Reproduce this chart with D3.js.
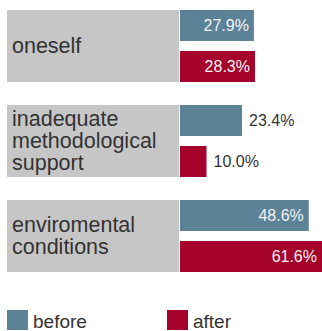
<!DOCTYPE html>
<html>
<head>
<meta charset="utf-8">
<script src="https://cdn.jsdelivr.net/npm/d3@7"></script>
<style>
  html, body { margin: 0; padding: 0; background: #fff; }
  svg { display: block; font-family: "Liberation Sans", Arial, Helvetica, sans-serif; }
</style>
</head>
<body>
<svg id="chart" width="322" height="331"></svg>
<script>
// Categories (label lines) and the two survey series, in percent
const categories = ["oneself", "inadequate methodological support", "enviromental conditions"];
const categoryLines = [["oneself"], ["inadequate", "methodological", "support"], ["enviromental", "conditions"]];
const series = ["before", "after"];
const beforeValues = [27.9, 23.4, 48.6];
const afterValues = [28.3, 10.0, 61.6];
const seriesLabels = ["before", "after"];

const colors = { before: "#5b8297", after: "#a5032b" };
const W = 322, H = 331;

const svg = d3.select("#chart");

// Vertical layout: one band per category, two bars inside each band
const y = d3.scaleBand().domain(categories).range([10, 272]).paddingInner(23 / 95).paddingOuter(0);
const ySub = d3.scaleBand().domain(series).range([0, y.bandwidth()]).paddingInner(10 / 41).paddingOuter(0);

// Horizontal value scale, bars grow from the right edge of the label box
const x = d3.scaleLinear().domain([0, 100]).range([180, 445]);

const rows = categories.map((c, i) => ({
  cat: c,
  lines: categoryLines[i],
  values: [
    { key: "before", value: beforeValues[i] },
    { key: "after", value: afterValues[i] }
  ]
}));

const g = svg.selectAll("g.cat").data(rows).join("g")
  .attr("class", "cat")
  .attr("transform", d => `translate(0,${y(d.cat)})`);

// Grey label box
g.append("rect")
  .attr("x", 7)
  .attr("y", 0)
  .attr("width", 172)
  .attr("height", y.bandwidth())
  .attr("fill", "#c6c6c6");

// Category label, possibly on several lines (tight leading)
const fs = 21.5, lh = 22;
g.append("text")
  .attr("fill", "#333")
  .attr("font-size", fs)
  .attr("textLength", null)
  .each(function(d) {
    const n = d.lines.length;
    const first = y.bandwidth() / 2 - (n - 1) / 2 * lh + 0.34 * fs;
    d3.select(this).selectAll("tspan").data(d.lines).join("tspan")
      .attr("x", 12)
      .attr("y", (l, k) => first + k * lh)
      .text(l => l);
  });

// Bars
g.selectAll("rect.bar").data(d => d.values).join("rect")
  .attr("class", "bar")
  .attr("x", x(0))
  .attr("y", d => ySub(d.key))
  .attr("width", d => x(d.value) - x(0))
  .attr("height", ySub.bandwidth())
  .attr("fill", d => colors[d.key]);

// Value labels: inside the bar when it is wide enough, otherwise just after it
const fmt = v => v.toFixed(1) + "%";
g.selectAll("text.val").data(d => d.values).join("text")
  .attr("class", "val")
  .attr("font-size", 16)
  .attr("y", d => ySub(d.key) + ySub.bandwidth() / 2 + 5.8)
  .each(function(d) {
    const end = x(d.value);
    const inside = d.value > 25;
    d3.select(this)
      .attr("x", inside ? Math.min(end, W) - 5 : end + 7)
      .attr("text-anchor", inside ? "end" : "start")
      .attr("fill", inside ? "#f2f2f4" : "#333");
  })
  .text(d => fmt(d.value));

// Legend
const legendX = [7, 167];
const lg = svg.selectAll("g.legend").data(series).join("g")
  .attr("class", "legend")
  .attr("transform", (d, i) => `translate(${legendX[i]},310)`);
lg.append("rect")
  .attr("width", 21)
  .attr("height", 20)
  .attr("fill", d => colors[d]);
lg.append("text")
  .attr("x", 26)
  .attr("y", 18)
  .attr("font-size", 19)
  .attr("fill", "#333")
  .text((d, i) => seriesLabels[i]);
</script>
</body>
</html>
